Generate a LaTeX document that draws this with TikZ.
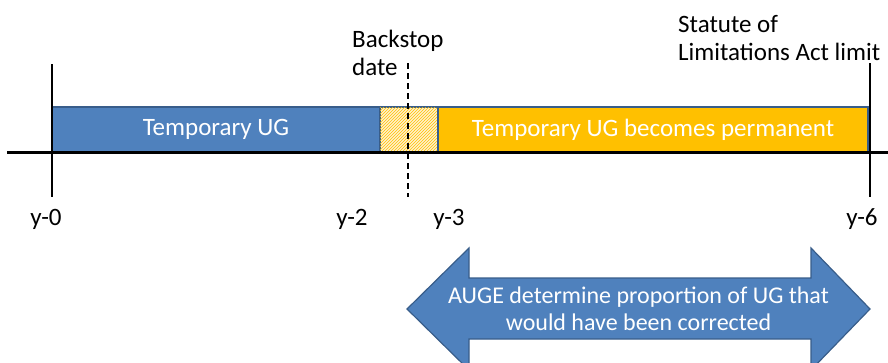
\documentclass[tikz,border=0pt]{standalone}
\usepackage{fontspec}
\setmainfont{Carlito}
\usetikzlibrary{patterns}
\definecolor{ublue}{HTML}{4F81BD}
\definecolor{uborder}{HTML}{385D8A}
\definecolor{uorange}{HTML}{FFC000}
\definecolor{ulight}{HTML}{FFF2CC}
\tikzset{
  bar/.style={draw=uborder, line width=1.5pt, minimum height=45pt, inner sep=0pt, text=white, font=\fontsize{25}{28}\selectfont},
  tick/.style={line width=2.5pt, black},
  ylab/.style={anchor=base, font=\fontsize{25}{28}\selectfont, inner sep=0pt},
  note/.style={anchor=base west, align=left, font=\fontsize{25}{28}\selectfont, inner sep=0pt},
}
\begin{document}
\begin{tikzpicture}[x=1pt,y=-1pt]
\useasboundingbox (0,0) rectangle (888,362);
\clip (0,0) rectangle (888,362);
% bars
\node[bar, fill=ublue, minimum width=328pt] (blue) at (216,129.5) {\raisebox{-1.5pt}{Temporary UG}};
\node[bar, fill=ulight, minimum width=58pt] (hatch) at (409,129.5) {};
\fill[pattern=north east lines, pattern color=uorange] (hatch.south west) rectangle (hatch.north east);
\draw[uborder, line width=1.5pt] (hatch.south west) rectangle (hatch.north east);
\node[bar, fill=uorange, minimum width=430pt] (orange) at (653,129.5) {\raisebox{-1.5pt}{Temporary UG becomes permanent}};
% axis
\coordinate (axL) at (7,152);
\coordinate (axR) at (888,152);
\draw[line width=3pt] (axL) -- (axR);
% ticks
\coordinate (t0a) at (52,64); \coordinate (t0b) at (52,197);
\coordinate (t6a) at (870,63); \coordinate (t6b) at (870,197);
\draw[tick] (t0a) -- (t0b);
\draw[tick] (t6a) -- (t6b);
\coordinate (da) at (408,63); \coordinate (db) at (408,197);
\draw[line width=2pt, dash pattern=on 6pt off 4pt] (da) -- (db);
% labels
\node[ylab] (y0) at (46,225) {y-0};
\node[ylab] (y2) at (352,225) {y-2};
\node[ylab] (y3) at (449,225) {y-3};
\node[ylab] (y6) at (862,225) {y-6};
\node[note] (back) at (352,75) {Backstop\\date};
\node[note] (stat) at (678,60) {Statute of\\Limitations Act limit};
% double arrow
\draw[fill=ublue, draw=uborder, line width=1.2pt]
  (407,309) -- (469,248) -- (469,278) -- (811,278) -- (811,248) -- (870,309)
  -- (811,370) -- (811,339) -- (469,339) -- (469,370) -- cycle;
\node[align=center, anchor=base, text=white, font=\fontsize{24}{27}\selectfont, inner sep=0pt] (auge) at (638.5,330)
  {AUGE determine proportion of UG that\\would have been corrected};
\end{tikzpicture}
\end{document}
